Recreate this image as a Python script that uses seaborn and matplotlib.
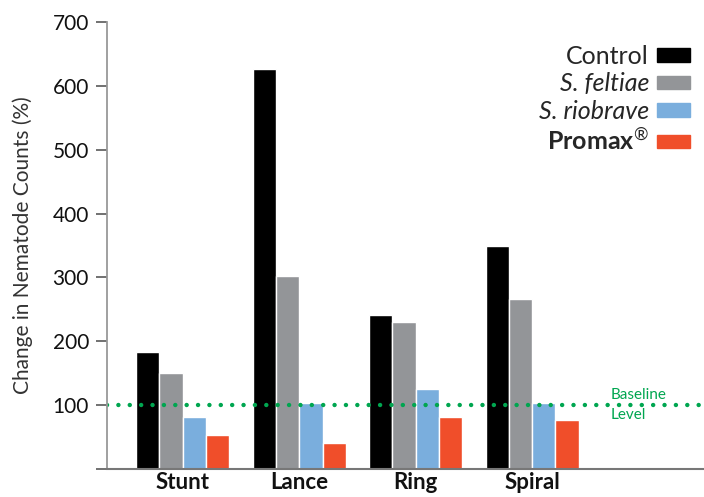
import pandas as pd
import seaborn as sns
import matplotlib.pyplot as plt
import matplotlib.patches as mpatches

# Data
nematodes = ['Stunt', 'Lance', 'Ring', 'Spiral']
treatments = ['Control', 'S. feltiae', 'S. riobrave', 'Promax$^{®}$']
control = [184, 627, 241, 350]
feltiae = [150, 302, 230, 267]
riobrave = [82, 104, 125, 104]
promax = [53, 40, 82, 77]
baseline = 100
y_ticks = [0, 100, 200, 300, 400, 500, 600, 700]
y_ticklabels = ['', '100', '200', '300', '400', '500', '600', '700']

colors = ['#000000', '#939598', '#7aaedd', '#f04e2a']

# Build a long table for seaborn
df = pd.DataFrame({
    'nematode': nematodes * 4,
    'treatment': [t for t in treatments for _ in nematodes],
    'change': control + feltiae + riobrave + promax,
})

sns.set_style('white')
plt.rcParams['font.family'] = ['Lato', 'DejaVu Sans']
plt.rcParams['mathtext.fontset'] = 'custom'
plt.rcParams['mathtext.rm'] = 'Lato'

fig = plt.figure(figsize=(7.04, 4.97), dpi=100)
ax = fig.add_axes([0.152, 0.0563, 0.848, 0.8994])

sns.barplot(data=df, x='nematode', y='change', hue='treatment', order=nematodes,
            hue_order=treatments, palette=colors, saturation=1, width=0.8,
            gap=0, errorbar=None, ax=ax, legend=False)

# Baseline dotted line
ax.axhline(baseline, color='#00a650', lw=3.2, linestyle=(0, (0.01, 2.55)),
           dash_capstyle='round', zorder=1)
ax.text(3.672, baseline + 10, 'Baseline', color='#00a650', fontsize=11,
        ha='left', va='baseline')
ax.text(3.672, baseline - 5, 'Level', color='#00a650', fontsize=11,
        ha='left', va='top')

ax.set_ylim(0, 700)
ax.set_xlim(-0.65, 4.475)
ax.set_yticks(y_ticks)
ax.set_yticklabels(y_ticklabels, fontsize=15, color='#111111')
ax.tick_params(axis='y', direction='out', length=8, width=1.3, color='#666666', pad=5, left=True)
ax.tick_params(axis='x', length=0, pad=2.5)
for lbl in ax.get_xticklabels():
    lbl.set_fontweight('bold')
    lbl.set_fontsize(16)
    lbl.set_color('#111111')
ax.set_xlabel('')
ax.set_ylabel('Change in Nematode Counts (%)', fontsize=15, color='#333333', labelpad=14)

sns.despine(ax=ax, top=True, right=True)
ax.spines['left'].set_color('#999999')
ax.spines['left'].set_linewidth(1.3)
ax.spines['bottom'].set_color('#777777')
ax.spines['bottom'].set_linewidth(1.5)

# Legend: text on the left, swatch on the right
handles = [mpatches.Patch(color=c) for c in colors]
leg = fig.legend(handles, treatments, loc='upper right', bbox_to_anchor=(0.998, 0.935),
                 frameon=False, markerfirst=False, fontsize=18, handlelength=1.32,
                 handleheight=0.44, handletextpad=0.32, labelspacing=0.18, borderpad=0)
texts = leg.get_texts()
texts[1].set_style('italic')
texts[2].set_style('italic')
texts[3].set_fontweight('bold')

fig.savefig('out.png', dpi=100)
